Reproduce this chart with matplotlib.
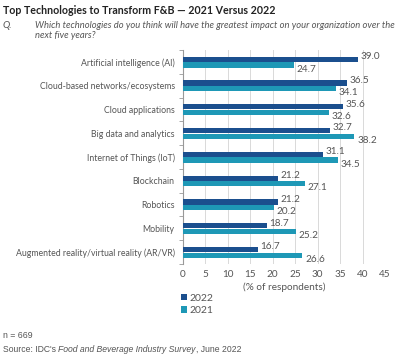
import numpy as np
import matplotlib
matplotlib.use("Agg")
import matplotlib.pyplot as plt

categories = ["Artificial intelligence (AI)", "Cloud-based networks/ecosystems",
              "Cloud applications", "Big data and analytics", "Internet of Things (IoT)",
              "Blockchain", "Robotics", "Mobility",
              "Augmented reality/virtual reality (AR/VR)"]
vals_2022 = [39.0, 36.5, 35.6, 32.7, 31.1, 21.2, 21.2, 18.7, 16.7]
vals_2021 = [24.7, 34.1, 32.6, 38.2, 34.5, 27.1, 20.2, 25.2, 26.6]
xticks = [0, 5, 10, 15, 20, 25, 30, 35, 40, 45]

c2022 = "#1b4f8e"
c2021 = "#1e98b6"
gray = "#555555"

plt.rcParams["font.family"] = ["Lato", "DejaVu Sans"]

W, H = 400, 355
fig = plt.figure(figsize=(W / 100, H / 100), dpi=100)
renderer = fig.canvas.get_renderer()


def fit(txt, width_px):
    # shrink/grow the font so the text spans about width_px
    w = txt.get_window_extent(renderer).width
    txt.set_fontsize(txt.get_fontsize() * width_px / w)
    return txt


# font size for the category labels: longest label ~160 px wide
probe = fig.text(0, 0, max(categories, key=len), fontsize=7)
fit(probe, 160)
cat_fs = probe.get_fontsize()
probe.remove()

ax = fig.add_axes([183 / W, 1 - 264 / H, 202 / W, 214 / H])

y = np.arange(len(categories))
bh = 0.22
ax.barh(y - 0.11, vals_2022, height=bh, color=c2022, label="2022", zorder=3)
ax.barh(y + 0.13, vals_2021, height=bh, color=c2021, label="2021", zorder=3)

fs = 7.2
for i in range(len(categories)):
    ax.text(vals_2022[i] + 0.6, y[i] - 0.22, f"{vals_2022[i]:.1f}", fontsize=fs,
            color=gray, va="center", ha="left")
    ax.text(vals_2021[i] + 0.6, y[i] + 0.3, f"{vals_2021[i]:.1f}", fontsize=fs,
            color=gray, va="center", ha="left")

ax.set_xlim(0, 45)
ax.set_ylim(len(categories) - 0.5, -0.5)
ax.set_xticks(xticks)
ax.set_xticklabels([str(t) for t in xticks], fontsize=fs, color=gray)
ax.set_yticks(y)
ax.set_yticklabels(categories, fontsize=cat_fs, color=gray)
ax.set_yticks(np.arange(len(categories) + 1) - 0.5, minor=True)
ax.tick_params(axis="y", which="major", length=0, pad=6)
ax.tick_params(axis="y", which="minor", length=3, color="#999999")
ax.tick_params(axis="x", length=0, pad=4)
ax.grid(axis="x", color="#d9d9d9", linewidth=0.7, zorder=0)
for s in ["top", "right", "bottom"]:
    ax.spines[s].set_visible(False)
ax.spines["left"].set_color("#999999")
ax.set_xlabel("(% of respondents)", fontsize=fs, color=gray, labelpad=3)

ax.legend(loc="upper left", bbox_to_anchor=(-0.01, -0.14), frameon=False,
          fontsize=7.5, labelcolor=gray, handlelength=0.55, handleheight=0.55,
          handletextpad=0.3, labelspacing=0.3, borderaxespad=0, borderpad=0)

t = fig.text(3 / W, 1 - 11 / H, "Top Technologies to Transform F&B \u2014 2021 Versus 2022",
             fontsize=9, fontweight="bold", color="#222222", va="center")
fit(t, 272)
fig.text(3 / W, 1 - 25 / H, "Q.", fontsize=7, style="italic", color=gray, va="center")
q = fig.text(35 / W, 1 - 25 / H,
             "Which technologies do you think will have the greatest impact on your organization over the",
             fontsize=7, style="italic", color=gray, va="center")
fit(q, 357)
fig.text(35 / W, 1 - 36 / H, "next five years?", fontsize=q.get_fontsize(), style="italic",
         color=gray, va="center")

fig.text(3 / W, 1 - 335 / H, "n = 669", fontsize=6.3, color=gray, va="center",
         family="Liberation Sans")

# source line: normal / italic / normal, total width about 240 px
parts = [("Source: IDC's ", "normal"), ("Food and Beverage Industry Survey", "italic"),
         (", June 2022", "normal")]
src_fs = 6.0
total = 0
for part, sty in parts:
    p = fig.text(0, 0, part, fontsize=src_fs, style=sty, family="Liberation Sans")
    total += p.get_window_extent(renderer).width
    p.remove()
src_fs *= 240 / total
x0 = 3
for part, sty in parts:
    p = fig.text(x0 / W, 1 - 349 / H, part, fontsize=src_fs, color=gray, va="center",
                 style=sty, family="Liberation Sans")
    x0 += p.get_window_extent(renderer).width

fig.savefig("out.png", dpi=100)
